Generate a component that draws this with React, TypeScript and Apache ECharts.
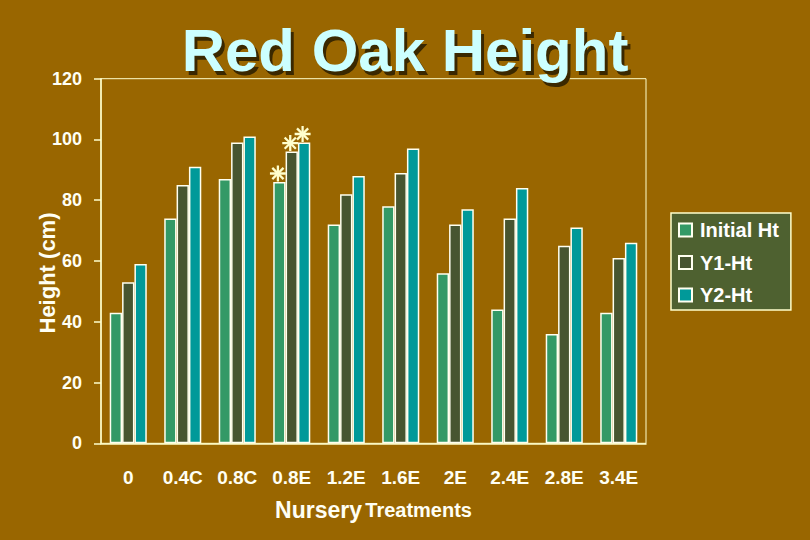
import React, { useEffect, useRef } from "react";
import * as echarts from "echarts";

const categories = ["0", "0.4C", "0.8C", "0.8E", "1.2E", "1.6E", "2E", "2.4E", "2.8E", "3.4E"];
const initialHt = [43, 74, 87, 86, 72, 78, 56, 44, 36, 43];
const y1Ht = [53, 85, 99, 96, 82, 89, 72, 74, 65, 61];
const y2Ht = [59, 91, 101, 99, 88, 97, 77, 84, 71, 66];
const starredCategory = "0.8E";
const yTicks = { min: 0, max: 120, interval: 20 };
const shownTickIndices = [0, 1, 2, 3, 5, 7, 9];
const titleText = "Red Oak Height";

const BG = "#996600";
const CREAM = "#FFFFCC";
const TEXT = "#FFFFF4";
const FONT = "'Liberation Sans', Arial, sans-serif";
const shadow = {
  textShadowColor: "rgba(40,25,0,0.55)",
  textShadowOffsetX: 1,
  textShadowOffsetY: 1,
  textShadowBlur: 0,
};

const starSvg =
  "<svg xmlns='http://www.w3.org/2000/svg' width='17' height='17' viewBox='0 0 17 17'>" +
  "<g stroke='#FFFFCC' stroke-width='2.3' fill='none'>" +
  "<line x1='8.5' y1='0.5' x2='8.5' y2='16.5'/>" +
  "<line x1='0.5' y1='8.5' x2='16.5' y2='8.5'/>" +
  "<line x1='2.9' y1='2.9' x2='14.1' y2='14.1'/>" +
  "<line x1='14.1' y1='2.9' x2='2.9' y2='14.1'/>" +
  "</g></svg>";
const starUrl = "data:image/svg+xml;charset=utf-8," + encodeURIComponent(starSvg);

const titleShadowSvg =
  "<svg xmlns='http://www.w3.org/2000/svg' width='500' height='80' viewBox='0 0 500 80'>" +
  "<text x='250' y='52' text-anchor='middle' font-family='Liberation Sans, Arial, sans-serif' " +
  "font-weight='bold' font-size='60' fill='#3A2800'>" +
  titleText +
  "</text></svg>";
const titleShadowUrl = "data:image/svg+xml;charset=utf-8," + encodeURIComponent(titleShadowSvg);

function withStars(values: number[]) {
  const idx = categories.indexOf(starredCategory);
  return values.map((v, i) =>
    i === idx
      ? {
          value: v,
          label: {
            show: true,
            position: "top",
            distance: 0,
            offset: [-1.5, 0],
            formatter: "{s|}",
            rich: {
              s: { width: 17, height: 17, backgroundColor: { image: starUrl } },
            },
          },
        }
      : v
  );
}

export default function App() {
  const ref = useRef<HTMLDivElement>(null);
  useEffect(() => {
    if (!ref.current) return;
    const chart = echarts.init(ref.current, null, { renderer: "svg" });
    const barItem = (color: string) => ({ color, borderColor: "#FFFFF0", borderWidth: 1.5 });
    chart.setOption({
      animation: false,
      backgroundColor: BG,
      textStyle: { fontFamily: FONT },
      graphic: [
        {
          type: "image",
          left: 158,
          top: 23,
          z: 0,
          silent: true,
          style: { image: titleShadowUrl, width: 500, height: 80 },
        },
      ],
      title: {
        text: titleText,
        left: "center",
        top: 20,
        padding: 0,
        z: 10,
        textStyle: {
          fontSize: 60,
          fontWeight: "bold",
          fontFamily: FONT,
          color: "#CCFFFF",
        },
      },
      legend: {
        orient: "vertical",
        left: 671,
        top: 213,
        padding: [7, 12, 5, 7],
        itemGap: 12.5,
        itemWidth: 13,
        itemHeight: 13,
        icon: "rect",
        backgroundColor: "#4E6130",
        borderColor: CREAM,
        borderWidth: 1.5,
        borderRadius: 0,
        textStyle: {
          color: "#FFFFFF",
          fontSize: 20,
          fontWeight: "bold",
          fontFamily: FONT,
          padding: [0, 0, 0, 3],
          ...shadow,
        },
        data: ["Initial Ht", "Y1-Ht", "Y2-Ht"],
      },
      grid: {
        left: 101,
        right: 164,
        top: 78.7,
        bottom: 96.7,
        show: true,
        borderColor: CREAM,
        borderWidth: 1,
        backgroundColor: "transparent",
      },
      xAxis: {
        type: "category",
        data: categories,
        axisLine: { lineStyle: { color: CREAM, width: 1.5 } },
        axisTick: {
          length: 9,
          lineStyle: { color: CREAM, width: 1.5 },
          interval: (index: number) => shownTickIndices.includes(index),
        },
        axisLabel: {
          interval: 0,
          margin: 25,
          color: TEXT,
          fontSize: 19,
          fontWeight: "bold",
          fontFamily: FONT,
          ...shadow,
        },
        name: "{a|Nursery} {b|Treatments}",
        nameLocation: "middle",
        nameGap: 55,
        nameMoveOverlap: false,
        nameTextStyle: {
          rich: {
            a: { fontSize: 23, fontWeight: "bold", color: TEXT, fontFamily: FONT, ...shadow },
            b: { fontSize: 20, fontWeight: "bold", color: TEXT, fontFamily: FONT, ...shadow },
          },
        },
      },
      yAxis: {
        type: "value",
        min: yTicks.min,
        max: yTicks.max,
        interval: yTicks.interval,
        splitLine: { show: false },
        axisLine: { show: true, lineStyle: { color: CREAM, width: 1.5 } },
        axisTick: { show: true, length: 7, lineStyle: { color: CREAM, width: 1.5 } },
        axisLabel: {
          margin: 19,
          color: TEXT,
          fontSize: 18,
          fontWeight: "bold",
          fontFamily: FONT,
          ...shadow,
        },
        name: "Height (cm)",
        nameLocation: "middle",
        nameGap: 43,
        nameMoveOverlap: false,
        nameTextStyle: {
          color: TEXT,
          fontSize: 22,
          fontWeight: "bold",
          fontFamily: FONT,
          padding: [0, 24, 0, 0],
          ...shadow,
        },
      },
      series: [
        {
          name: "Initial Ht",
          type: "bar",
          data: withStars(initialHt),
          itemStyle: barItem("#339966"),
          barGap: "0%",
          barCategoryGap: "32%",
        },
        {
          name: "Y1-Ht",
          type: "bar",
          data: withStars(y1Ht),
          itemStyle: barItem("#475530"),
          barGap: "0%",
          barCategoryGap: "32%",
        },
        {
          name: "Y2-Ht",
          type: "bar",
          data: withStars(y2Ht),
          itemStyle: barItem("#009999"),
          barGap: "0%",
          barCategoryGap: "32%",
        },
      ],
    });
    return () => chart.dispose();
  }, []);
  return <div ref={ref} style={{ width: 810, height: 540, position: "absolute", left: 0, top: 0 }} />;
}
